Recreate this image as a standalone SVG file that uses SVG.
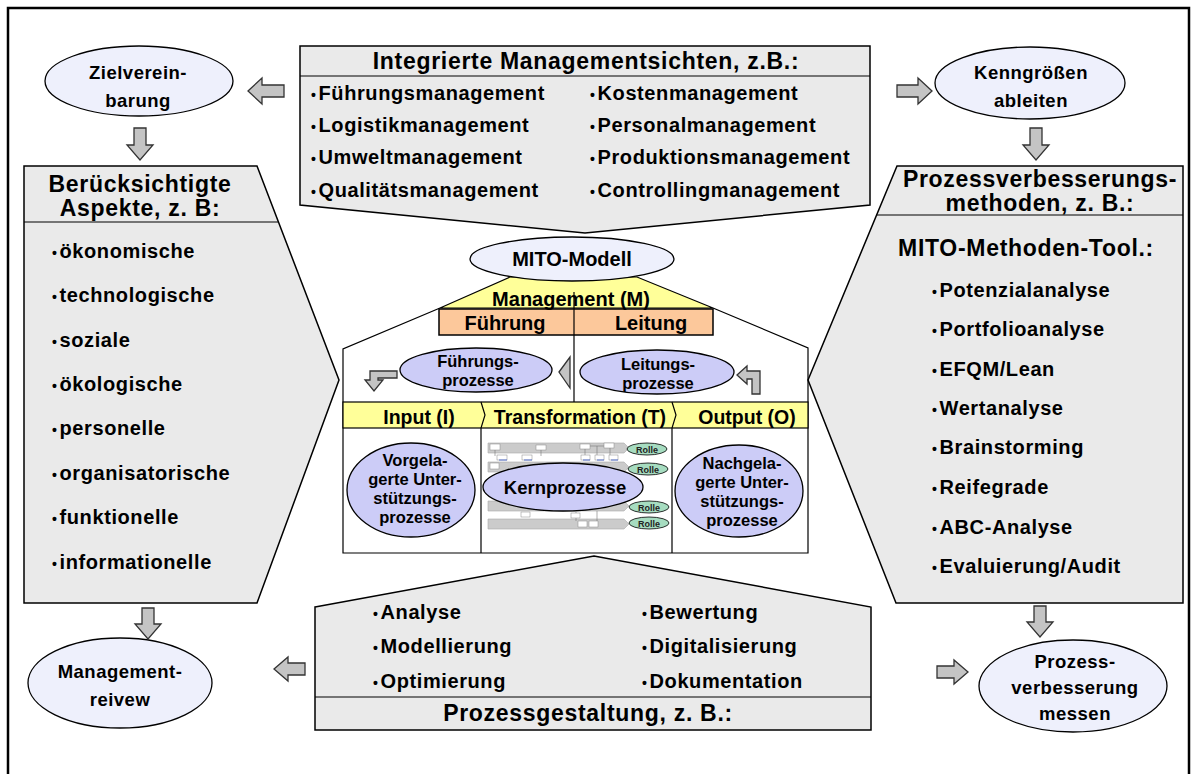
<svg xmlns="http://www.w3.org/2000/svg" width="1198" height="774" viewBox="0 0 1198 774">
<defs>
<style>
.t{font-family:"Liberation Sans",Arial,sans-serif;font-weight:bold;fill:#000}
.m{text-anchor:middle}
.h{font-size:23px;letter-spacing:0.7px}
.i{font-size:20px;letter-spacing:0.6px}
.e{font-size:18.5px;letter-spacing:0.5px}
.s20{font-size:20px}
.s19{font-size:19.5px}
.s17{font-size:16.5px}
.b{font-size:14px}
.panel{fill:#eaeaea;stroke:#000;stroke-width:1.5}
.ell{fill:#eef0fc;stroke:#000;stroke-width:1.3}
.iell{fill:#ccccf7;stroke:#000;stroke-width:1.3}
.arr{fill:#c4c4c4;stroke:#333;stroke-width:1.3}
.ln{fill:none;stroke:#000;stroke-width:1.2}
.yel{fill:#ffff99;stroke:#000;stroke-width:1.2}
.org{fill:#fcc89b;stroke:#000;stroke-width:1.5}
.lane{fill:#cbcbcb;stroke:#aaa;stroke-width:0.6}
.box{fill:#fff;stroke:#888;stroke-width:0.5}
.blu{stroke:#3355cc;stroke-width:0.8}
.rol{fill:#a6dcc0;stroke:#000;stroke-width:0.8}
.rt{font-family:"Liberation Sans",Arial,sans-serif;font-weight:bold;font-size:9px;fill:#222;text-anchor:middle}
</style>
</defs>
<rect x="8" y="8" width="1181" height="780" fill="#fff" stroke="#000" stroke-width="2.5"/>

<g id="managementsichten">
<polygon class="panel" points="300,46 870,46 870,205 585,233 300,205"/>
<line class="ln" x1="300" y1="76" x2="870" y2="76"/>
<text class="t h m" x="586" y="69">Integrierte Managementsichten, z.B.:</text>
<text class="t i" x="311" y="100"><tspan class="b">•</tspan><tspan dx="2">Führungsmanagement</tspan></text>
<text class="t i" x="311" y="132"><tspan class="b">•</tspan><tspan dx="2">Logistikmanagement</tspan></text>
<text class="t i" x="311" y="164"><tspan class="b">•</tspan><tspan dx="2">Umweltmanagement</tspan></text>
<text class="t i" x="311" y="197"><tspan class="b">•</tspan><tspan dx="2">Qualitätsmanagement</tspan></text>
<text class="t i" x="590" y="100"><tspan class="b">•</tspan><tspan dx="2">Kostenmanagement</tspan></text>
<text class="t i" x="590" y="132"><tspan class="b">•</tspan><tspan dx="2">Personalmanagement</tspan></text>
<text class="t i" x="590" y="164"><tspan class="b">•</tspan><tspan dx="2">Produktionsmanagement</tspan></text>
<text class="t i" x="590" y="197"><tspan class="b">•</tspan><tspan dx="2">Controllingmanagement</tspan></text>
</g>

<g id="zielvereinbarung">
<ellipse class="ell" cx="139" cy="81" rx="94" ry="35"/>
<text class="t e m" x="138" y="79">Zielverein-</text>
<text class="t e m" x="138" y="107">barung</text>
</g>

<g id="kenngroessen">
<ellipse class="ell" cx="1030" cy="83" rx="95" ry="36"/>
<text class="t e m" x="1031" y="79">Kenngrößen</text>
<text class="t e m" x="1031" y="107">ableiten</text>
</g>

<g id="aspekte">
<polygon class="panel" points="24,166 257,166 339,380 257,603 24,603"/>
<line class="ln" x1="24" y1="222" x2="278.5" y2="222"/>
<text class="t h m" x="140" y="192">Berücksichtigte</text>
<text class="t h m" x="140" y="216">Aspekte, z. B:</text>
<text class="t i" x="52" y="258"><tspan class="b">•</tspan><tspan dx="2">ökonomische</tspan></text>
<text class="t i" x="52" y="302"><tspan class="b">•</tspan><tspan dx="2">technologische</tspan></text>
<text class="t i" x="52" y="347"><tspan class="b">•</tspan><tspan dx="2">soziale</tspan></text>
<text class="t i" x="52" y="391"><tspan class="b">•</tspan><tspan dx="2">ökologische</tspan></text>
<text class="t i" x="52" y="435"><tspan class="b">•</tspan><tspan dx="2">personelle</tspan></text>
<text class="t i" x="52" y="480"><tspan class="b">•</tspan><tspan dx="2">organisatorische</tspan></text>
<text class="t i" x="52" y="524"><tspan class="b">•</tspan><tspan dx="2">funktionelle</tspan></text>
<text class="t i" x="52" y="569"><tspan class="b">•</tspan><tspan dx="2">informationelle</tspan></text>
</g>

<g id="methoden">
<polygon class="panel" points="897,166 1183,166 1183,603 896,603 808,380"/>
<line class="ln" x1="876.5" y1="215" x2="1183" y2="215"/>
<text class="t h m" x="1040" y="187">Prozessverbesserungs-</text>
<text class="t h m" x="1040" y="211">methoden, z. B.:</text>
<text class="t h m" x="1026" y="256">MITO-Methoden-Tool.:</text>
<text class="t i" x="932" y="297"><tspan class="b">•</tspan><tspan dx="2">Potenzialanalyse</tspan></text>
<text class="t i" x="932" y="336"><tspan class="b">•</tspan><tspan dx="2">Portfolioanalyse</tspan></text>
<text class="t i" x="932" y="376"><tspan class="b">•</tspan><tspan dx="2">EFQM/Lean</tspan></text>
<text class="t i" x="932" y="415"><tspan class="b">•</tspan><tspan dx="2">Wertanalyse</tspan></text>
<text class="t i" x="932" y="454"><tspan class="b">•</tspan><tspan dx="2">Brainstorming</tspan></text>
<text class="t i" x="932" y="494"><tspan class="b">•</tspan><tspan dx="2">Reifegrade</tspan></text>
<text class="t i" x="932" y="534"><tspan class="b">•</tspan><tspan dx="2">ABC-Analyse</tspan></text>
<text class="t i" x="932" y="573"><tspan class="b">•</tspan><tspan dx="2">Evaluierung/Audit</tspan></text>
</g>

<g id="mito-haus">
<polygon class="yel" points="440,308 510,277 637,277 713,308"/>
<path class="ln" d="M440,308 L343,349 V553 H808 V348 L713,308"/>
<rect class="org" x="439" y="309" width="274" height="26"/>
<line class="ln" x1="574" y1="292" x2="574" y2="402"/>
<text class="t s20 m" x="571" y="306">Management (M)</text>
<text class="t s20 m" x="505" y="330">Führung</text>
<text class="t s20 m" x="651" y="330">Leitung</text>
<rect class="yel" x="343" y="402" width="465" height="26"/>
<path class="ln" d="M481,402 L485,415 L481,428 V553 M672,402 L676,415 L672,428 V553"/>
<text class="t s19 m" x="419" y="424">Input (I)</text>
<text class="t s19 m" x="580" y="424">Transformation (T)</text>
<text class="t s19 m" x="747" y="424">Output (O)</text>
</g>

<g id="fuehrungsprozesse">
<ellipse class="iell" cx="476" cy="370" rx="76" ry="22"/>
<text class="t s17 m" x="478" y="367">Führungs-</text>
<text class="t s17 m" x="478" y="386">prozesse</text>
</g>

<g id="leitungsprozesse">
<ellipse class="iell" cx="657" cy="372" rx="77" ry="22"/>
<text class="t s17 m" x="658" y="370">Leitungs-</text>
<text class="t s17 m" x="658" y="389">prozesse</text>
</g>

<g id="swimlanes">
<polygon class="lane" points="488,443 624,443 629,448 624,453 488,453"/>
<polygon class="lane" points="488,462 624,462 629,467 624,472 488,472"/>
<polygon class="lane" points="488,501 624,501 629,506 624,511 488,511"/>
<polygon class="lane" points="488,519 624,519 629,524 624,529 488,529"/>
<path d="M495,449 V456 M541,449 V456 M585,446 V456 M597,446 V456 M610,444 V456 M585,446 H610 M526,512 V517 M576,512 V521 M597,511 V521" stroke="#777" stroke-width="0.6" fill="none"/>
<rect class="box" x="490" y="444" width="10" height="6"/>
<rect class="box" x="536" y="445" width="10" height="5"/>
<rect class="box" x="580" y="444" width="10" height="5"/>
<rect class="box" x="604" y="443" width="10" height="5"/>
<rect class="box" x="497" y="455" width="10" height="5"/>
<rect class="box" x="522" y="455" width="10" height="5"/>
<rect class="box" x="581" y="455" width="9" height="5"/>
<rect class="box" x="595" y="455" width="9" height="5"/>
<rect class="box" x="609" y="455" width="9" height="5"/>
<rect class="box" x="490" y="463" width="9" height="6"/>
<rect class="box" x="521" y="512" width="9" height="5"/>
<rect class="box" x="571" y="513" width="9" height="5"/>
<rect class="box" x="578" y="521" width="9" height="6"/>
<rect class="box" x="589" y="521" width="9" height="6"/>
<path class="blu" d="M499,460 H507 M524,460 H532 M583,460 H590 M597,460 H604 M611,460 H618"/>
<ellipse class="rol" cx="647" cy="449" rx="20" ry="6"/>
<text class="rt" x="647" y="452.5">Rolle</text>
<ellipse class="rol" cx="648" cy="469" rx="20" ry="6"/>
<text class="rt" x="648" y="472.5">Rolle</text>
<ellipse class="rol" cx="649" cy="507" rx="20" ry="6"/>
<text class="rt" x="649" y="510.5">Rolle</text>
<ellipse class="rol" cx="649" cy="523" rx="20" ry="6"/>
<text class="rt" x="649" y="526.5">Rolle</text>
</g>

<g id="kernprozesse">
<ellipse class="iell" cx="563" cy="487" rx="80" ry="24"/>
<text class="t m" style="font-size:18.5px" x="565" y="494">Kernprozesse</text>
</g>

<g id="vorgelagerte">
<ellipse class="iell" cx="411" cy="490" rx="64" ry="47"/>
<text class="t s17 m" x="415" y="466">Vorgela-</text>
<text class="t s17 m" x="415" y="485">gerte Unter-</text>
<text class="t s17 m" x="415" y="504">stützungs-</text>
<text class="t s17 m" x="415" y="523">prozesse</text>
</g>

<g id="nachgelagerte">
<ellipse class="iell" cx="739" cy="491" rx="64" ry="46"/>
<text class="t s17 m" x="742" y="469">Nachgela-</text>
<text class="t s17 m" x="742" y="488">gerte Unter-</text>
<text class="t s17 m" x="742" y="507">stützungs-</text>
<text class="t s17 m" x="742" y="526">prozesse</text>
</g>

<g id="mito-modell">
<ellipse class="ell" cx="572" cy="259" rx="102" ry="22"/>
<text class="t s20 m" x="572" y="266">MITO-Modell</text>
</g>

<g id="prozessgestaltung">
<polygon class="panel" points="315,607 594,556 871,607 871,730 315,730"/>
<line class="ln" x1="315" y1="697" x2="871" y2="697"/>
<text class="t h m" x="588" y="721">Prozessgestaltung, z. B.:</text>
<text class="t i" x="373" y="619"><tspan class="b">•</tspan><tspan dx="2">Analyse</tspan></text>
<text class="t i" x="373" y="653"><tspan class="b">•</tspan><tspan dx="2">Modellierung</tspan></text>
<text class="t i" x="373" y="688"><tspan class="b">•</tspan><tspan dx="2">Optimierung</tspan></text>
<text class="t i" x="642" y="619"><tspan class="b">•</tspan><tspan dx="2">Bewertung</tspan></text>
<text class="t i" x="642" y="653"><tspan class="b">•</tspan><tspan dx="2">Digitalisierung</tspan></text>
<text class="t i" x="642" y="688"><tspan class="b">•</tspan><tspan dx="2">Dokumentation</tspan></text>
</g>

<g id="managementreview">
<ellipse class="ell" cx="120" cy="683" rx="92" ry="45"/>
<text class="t e m" x="120" y="678">Management-</text>
<text class="t e m" x="120" y="706">reivew</text>
</g>

<g id="prozessverbesserung">
<ellipse class="ell" cx="1073" cy="686" rx="94" ry="46"/>
<text class="t e m" x="1075" y="668">Prozess-</text>
<text class="t e m" x="1075" y="694">verbesserung</text>
<text class="t e m" x="1075" y="720">messen</text>
</g>

<g id="connectors">
<polygon class="arr" points="248,91 262,78 262,85 284,85 284,97 262,97 262,104"/>
<polygon class="arr" points="932,91 918,78 918,85 897,85 897,97 918,97 918,104"/>
<polygon class="arr" points="134,128 146,128 146,145 153,145 140,160 127,145 134,145"/>
<polygon class="arr" points="1030,128 1042,128 1042,145 1049,145 1036,160 1023,145 1030,145"/>
<polygon class="arr" points="142,608 154,608 154,624 161,624 148,639 135,624 142,624"/>
<polygon class="arr" points="1034,606 1046,606 1046,622 1053,622 1040,637 1027,622 1034,622"/>
<polygon class="arr" points="274,669 288,657 288,663 305,663 305,675 288,675 288,681"/>
<polygon class="arr" points="968,672 954,660 954,666 937,666 937,678 954,678 954,684"/>
<polygon class="arr" points="559,372 570,357 570,388"/>
<polygon class="arr" points="397,371 370,371 370,380 365,380 374,391 383,380 378,380 378,378 397,378"/>
<polygon class="arr" points="737,375 747,366 747,371 760,371 760,394 752,394 752,379 747,379 747,384"/>
</g>
</svg>
